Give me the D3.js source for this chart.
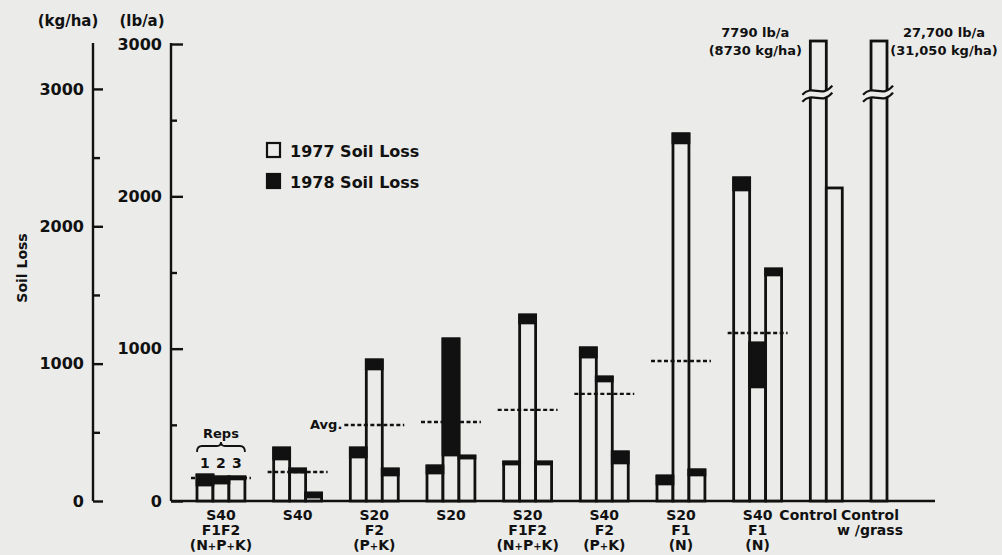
<!DOCTYPE html>
<html>
<head>
<meta charset="utf-8">
<script src="https://cdn.jsdelivr.net/npm/d3@7"></script>
<style>
    body { margin: 0; background: #ebebe9; }
    svg { display: block; font-family: "DejaVu Sans", sans-serif; font-weight: bold; fill: #111; }
</style>
</head>
<body>
<svg id="chart"></svg>
<script>
// treatment groups, one label line per entry
const groupLabels = [
    ["S40", "F1F2", "(N+P+K)"],
    ["S40"],
    ["S20", "F2", "(P+K)"],
    ["S20"],
    ["S20", "F1F2", "(N+P+K)"],
    ["S40", "F2", "(P+K)"],
    ["S20", "F1", "(N)"],
    ["S40", "F1", "(N)"],
    ["Control"],
    ["Control", "w /grass"]
];

// soil loss per rep, lb/a
const loss1977 = [
    [105, 118, 145],
    [276, 190, 26],
    [289, 867, 171],
    [184, 302, 282],
    [243, 1169, 243],
    [945, 788, 250],
    [112, 2351, 171],
    [2042, 749, 1484],
    [7790, 2055],
    [27700]
];
const loss1978 = [
    [66, 40, 13],
    [72, 20, 26],
    [59, 59, 39],
    [46, 762, 13],
    [13, 52, 13],
    [60, 26, 72],
    [52, 59, 33],
    [79, 288, 39],
    [0, 0],
    [0]
];
// group averages (dashed lines), lb/a
const avgLoss = [151, 190, 499, 519, 598, 703, 919, 1103, null, null];

// off scale bars
const offScaleLabels = [
    ["7790 lb/a", "(8730 kg/ha)"],
    ["27,700 lb/a", "(31,050 kg/ha)"]
];

const lbTicks = [0, 1000, 2000, 3000];
const lbMinor = [500, 1500, 2500];
const kgTicks = [0, 1000, 2000, 3000];
const kgMinor = [500, 1500, 2500];
const legendItems = ["1977 Soil Loss", "1978 Soil Loss"];

var svgWidth = 1002;
var svgHeight = 555;
var paper = "#ebebe9";
var ink = "#111";
var groupGap = 1.8;   // gap between groups, in bar widths
var kgPerLb = 1.109;  // as drawn on the left axis

var svg = d3.select("#chart")
    .attr("width", svgWidth)
    .attr("height", svgHeight);

svg.append("rect").attr("width", svgWidth).attr("height", svgHeight).attr("fill", paper);

// y scales
var yLb = d3.scaleLinear().domain([0, 3000]).range([501, 44]);
var yKg = d3.scaleLinear().domain([0, 3000 * kgPerLb]).range([501, 44]);

// bar slots along x
var bars = [];
var groups = [];
var unit = 0;
for (var g = 0; g < groupLabels.length; g++) {
    var start = unit;
    for (var r = 0; r < loss1977[g].length; r++) {
        bars.push({ group: g, rep: r, pos: unit, a: loss1977[g][r], b: loss1978[g][r] });
        unit += 1;
    }
    groups.push({ index: g, start: start, end: unit, labels: groupLabels[g], avg: avgLoss[g] });
    unit += groupGap;
}
var xScale = d3.scaleLinear().domain([0, unit - groupGap]).range([197, 887]);
var bw = xScale(1) - xScale(0);
var baseY = yLb(0);
var topY = yLb(3000) - 3;

function clampY(v) { return v > 3000 ? topY : yLb(v); }

// axes
function drawAxis(xPos, scale, major, minor, majorLen, minorLen) {
    var g = svg.append("g").attr("transform", "translate(" + xPos + ",0)");
    g.append("line")
        .attr("x1", 0).attr("x2", 0)
        .attr("y1", 43).attr("y2", baseY)
        .style("stroke", ink).style("stroke-width", 2.4);
    var ax = d3.axisRight(scale).tickValues(major).tickSize(majorLen).tickFormat(d3.format("d"));
    var a = g.append("g").call(ax);
    a.select(".domain").remove();
    a.selectAll(".tick line").style("stroke", ink).style("stroke-width", 2.4);
    a.selectAll(".tick text")
        .attr("x", -9).attr("text-anchor", "end")
        .style("font-family", "DejaVu Sans").style("font-weight", "bold")
        .style("font-size", "16px").style("fill", ink);
    var m = g.append("g").call(d3.axisRight(scale).tickValues(minor).tickSize(minorLen).tickFormat(""));
    m.select(".domain").remove();
    m.selectAll(".tick line").style("stroke", ink).style("stroke-width", 2.4);
}
drawAxis(93, yKg, kgTicks, kgMinor, 10, 7);
drawAxis(171, yLb, lbTicks, lbMinor, 12, 6);

// baseline
svg.append("line")
    .attr("x1", 171).attr("x2", xScale(unit - groupGap) + 48)
    .attr("y1", baseY).attr("y2", baseY)
    .style("stroke", ink).style("stroke-width", 2.4);

// unit headers
svg.append("text").attr("x", 68).attr("y", 26).attr("text-anchor", "middle")
    .style("font-size", "15px").text("(kg/ha)");
svg.append("text").attr("x", 142).attr("y", 26).attr("text-anchor", "middle")
    .style("font-size", "15px").text("(lb/a)");
svg.append("text")
    .attr("transform", "translate(27,268) rotate(-90)")
    .attr("text-anchor", "middle")
    .style("font-size", "14px").text("Soil Loss");

// bars: outline for the whole bar, black for 1978
var chart = svg.append("g");
chart.selectAll(".bar")
    .data(bars)
    .enter()
    .append("rect")
    .attr("class", "bar")
    .attr("x", function (d) { return xScale(d.pos); })
    .attr("y", function (d) { return clampY(d.a + d.b); })
    .attr("width", bw)
    .attr("height", function (d) { return baseY - clampY(d.a + d.b); })
    .style("fill", paper)
    .style("stroke", ink)
    .style("stroke-width", 2.8);

chart.selectAll(".black")
    .data(bars.filter(function (d) { return d.b > 0; }))
    .enter()
    .append("rect")
    .attr("class", "black")
    .attr("x", function (d) { return xScale(d.pos); })
    .attr("y", function (d) { return yLb(d.a + d.b); })
    .attr("width", bw)
    .attr("height", function (d) { return yLb(d.a) - yLb(d.a + d.b); })
    .style("fill", ink)
    .style("stroke", ink)
    .style("stroke-width", 2.8);

// breaks on off-scale bars
var offBars = bars.filter(function (d) { return d.a + d.b > 3000; });
offBars.forEach(function (d, i) {
    var l = xScale(d.pos), r = xScale(d.pos + 1);
    function wave(y) {
        return "M" + (l - 8) + "," + (y + 5) +
            " C" + (l + 2) + "," + (y - 6) + " " + (r - 4) + "," + (y + 9) + " " + (r + 6) + "," + (y - 4);
    }
    var y1 = yLb(2700), y2 = y1 + 7;
    svg.append("path")
        .attr("d", wave(y1) + " L" + (r + 6) + "," + (y2 - 4) +
            " C" + (r - 4) + "," + (y2 + 9) + " " + (l + 2) + "," + (y2 - 6) + " " + (l - 8) + "," + (y2 + 5) + " Z")
        .style("fill", paper).style("stroke", "none");
    svg.append("path").attr("d", wave(y1)).style("fill", "none").style("stroke", ink).style("stroke-width", 2.2);
    svg.append("path").attr("d", wave(y2)).style("fill", "none").style("stroke", ink).style("stroke-width", 2.2);

    var cx = i == 0 ? l - 55 : r + 57;
    offScaleLabels[i].forEach(function (t, k) {
        svg.append("text")
            .attr("x", cx).attr("y", 37 + k * 18)
            .attr("text-anchor", "middle")
            .style("font-size", "13px")
            .text(t);
    });
});

// average lines
chart.selectAll(".avg")
    .data(groups.filter(function (d) { return d.avg != null; }))
    .enter()
    .append("line")
    .attr("class", "avg")
    .attr("x1", function (d) { return xScale(d.start) - 6; })
    .attr("x2", function (d) { return xScale(d.end) + 6; })
    .attr("y1", function (d) { return yLb(d.avg); })
    .attr("y2", function (d) { return yLb(d.avg); })
    .style("stroke", ink)
    .style("stroke-width", 2.4)
    .style("stroke-dasharray", "4,2.5");

// "Avg." tag next to the S20 F2 line
svg.append("text")
    .attr("x", xScale(groups[2].start) - 8)
    .attr("y", yLb(groups[2].avg) + 4)
    .attr("text-anchor", "end")
    .style("font-size", "13px")
    .text("Avg.");

// group labels
groups.forEach(function (d) {
    var cx = (xScale(d.start) + xScale(d.end)) / 2;
    if (d.index == 8) cx -= 18;
    if (d.index == 9) cx -= 9;
    d.labels.forEach(function (t, k) {
        var txt = svg.append("text")
            .attr("x", cx).attr("y", 520 + k * 15)
            .attr("text-anchor", "middle")
            .style("font-size", "14px");
        t.split("+").forEach(function (p, j) {
            if (j > 0) txt.append("tspan").style("font-size", "10px").text("+");
            txt.append("tspan").text(p);
        });
    });
});

// reps annotation over the first group
var g0 = groups[0];
var bl = xScale(g0.start), br = xScale(g0.end), bm = (bl + br) / 2;
svg.append("text").attr("x", bm).attr("y", 438).attr("text-anchor", "middle")
    .style("font-size", "13px").text("Reps");
svg.append("path")
    .attr("d", "M" + bl + ",452 Q" + bl + ",446 " + (bl + 5) + ",446 L" + (bm - 4) + ",446 Q" + bm + ",446 " + bm + ",442" +
        " Q" + bm + ",446 " + (bm + 4) + ",446 L" + (br - 5) + ",446 Q" + br + ",446 " + br + ",452")
    .style("fill", "none").style("stroke", ink).style("stroke-width", 1.8);
bars.filter(function (d) { return d.group == 0; }).forEach(function (d) {
    svg.append("text")
        .attr("x", xScale(d.pos + 0.5)).attr("y", 468)
        .attr("text-anchor", "middle")
        .style("font-size", "14px")
        .text(d.rep + 1);
});

// legend
var legend = svg.append("g").attr("transform", "translate(267,143)");
legendItems.forEach(function (t, i) {
    legend.append("rect")
        .attr("x", 0).attr("y", i * 31)
        .attr("width", 13).attr("height", 14)
        .style("fill", i == 0 ? paper : ink)
        .style("stroke", ink).style("stroke-width", 2.2);
    legend.append("text")
        .attr("x", 23).attr("y", i * 31 + 14)
        .style("font-size", "16px")
        .text(t);
});
</script>
</body>
</html>
